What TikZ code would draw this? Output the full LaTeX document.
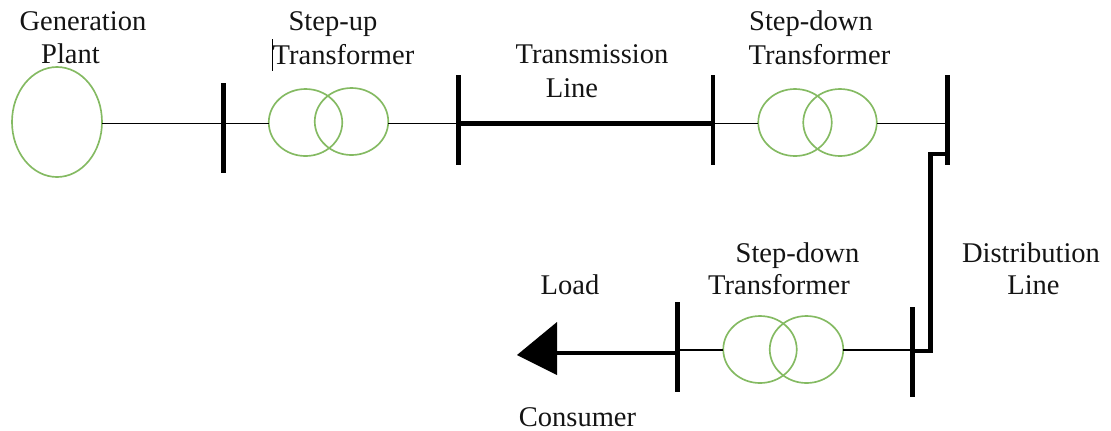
\documentclass[tikz,border=0pt]{standalone}
\usepackage{fontspec}
\setmainfont{Liberation Serif}
\usetikzlibrary{shapes.geometric}
\definecolor{coilgreen}{HTML}{84BA62}
\definecolor{inkblack}{HTML}{141414}
\tikzset{
  coil/.style={draw=coilgreen,line width=1.25pt,ellipse,inner sep=0pt,outer sep=0pt,minimum width=73.5*0.75pt,minimum height=67*0.75pt},
  genset/.style={draw=coilgreen,line width=1.25pt,ellipse,inner sep=0pt,outer sep=0pt,minimum width=90*0.75pt,minimum height=110*0.75pt},
  busbar/.style={fill=black,inner sep=0pt,outer sep=0pt,minimum width=4.8*0.75pt,minimum height=90*0.75pt},
  thinline/.style={draw=black,line width=0.85pt},
  heavyline/.style={draw=black,line width=3.6pt},
  caption/.style={inner sep=0pt,outer sep=0pt,anchor=base,text=inkblack,font=\fontsize{21.4}{21.4}\selectfont}
}
\begin{document}
\begin{tikzpicture}[x=0.75pt,y=-0.75pt]
\useasboundingbox (0,0) rectangle (1111,430);
% captions
\node[caption] (t1) at (83,30) {Generation};
\node[caption] (t2) at (70.5,63) {Plant};
\node[caption] (t3) at (333,30) {Step-up};
\node[caption] (t4) at (343.5,64) {Transformer};
\node[caption] (t5) at (592,63) {Transmission};
\node[caption] (t6) at (572,97) {Line};
\node[caption] (t7) at (811,30) {Step-down};
\node[caption] (t8) at (819.5,64) {Transformer};
\node[caption] (t9) at (797.5,262) {Step-down};
\node[caption] (t10) at (779,294) {Transformer};
\node[caption] (t11) at (570,294) {Load};
\node[caption] (t12) at (1031,262) {Distribution};
\node[caption] (t13) at (1033.5,294) {Line};
\node[caption] (t14) at (577.5,426) {Consumer};
% text cursor mark
\coordinate (m1) at (272,39);
\coordinate (m2) at (272,71);
\draw[black,line width=0.5pt] (m1) -- (m2);
% top row
\node[genset] (gen) at (57,122) {};
\node[busbar] (b1) at (223.5,128) {};
\node[coil] (c1l) at (305.5,122.5) {};
\node[coil] (c1r) at (351.5,121.5) {};
\node[busbar] (b2) at (458.5,120) {};
\node[busbar] (b3) at (713,120) {};
\node[coil] (c2l) at (795,122.5) {};
\node[coil] (c2r) at (840,122.5) {};
\node[busbar] (b4) at (947.5,120) {};
% bottom row
\node[busbar] (b5) at (912.5,352) {};
\node[coil] (c3l) at (760,349.5) {};
\node[coil] (c3r) at (806.5,349.5) {};
\node[busbar] (b6) at (677.5,347) {};
% connectors
\draw[thinline] (gen.east |- 0,123.5) -- (b1.center |- 0,123.5);
\draw[thinline] (b1.center |- 0,123.5) -- (c1l.west |- 0,123.5);
\draw[thinline] (c1r.east |- 0,123.5) -- (b2.center |- 0,123.5);
\draw[heavyline] (b2.center |- 0,123.5) -- (b3.center |- 0,123.5);
\draw[thinline] (b3.center |- 0,123.5) -- (c2l.west |- 0,123.5);
\draw[thinline] (c2r.east |- 0,123.5) -- (b4.center |- 0,123.5);
\coordinate (j1) at (930.5,154);
\coordinate (j2) at (930.5,351);
\draw[heavyline,miter limit=10] (b4.center |- 0,154) -- (j1) -- (j2) -- (b5.center |- 0,351);
\draw[thinline] (b5.center |- 0,350) -- (c3r.east |- 0,350);
\draw[thinline] (c3l.west |- 0,350) -- (b6.center |- 0,350);
\coordinate (a1) at (556,353);
\draw[heavyline] (b6.center |- 0,353) -- (a1);
\coordinate (tipT) at (557,322);
\coordinate (tipB) at (557,375);
\coordinate (tipP) at (517,355);
\fill[black] (tipT) -- (tipP) -- (tipB) -- cycle;
\end{tikzpicture}
\end{document}
